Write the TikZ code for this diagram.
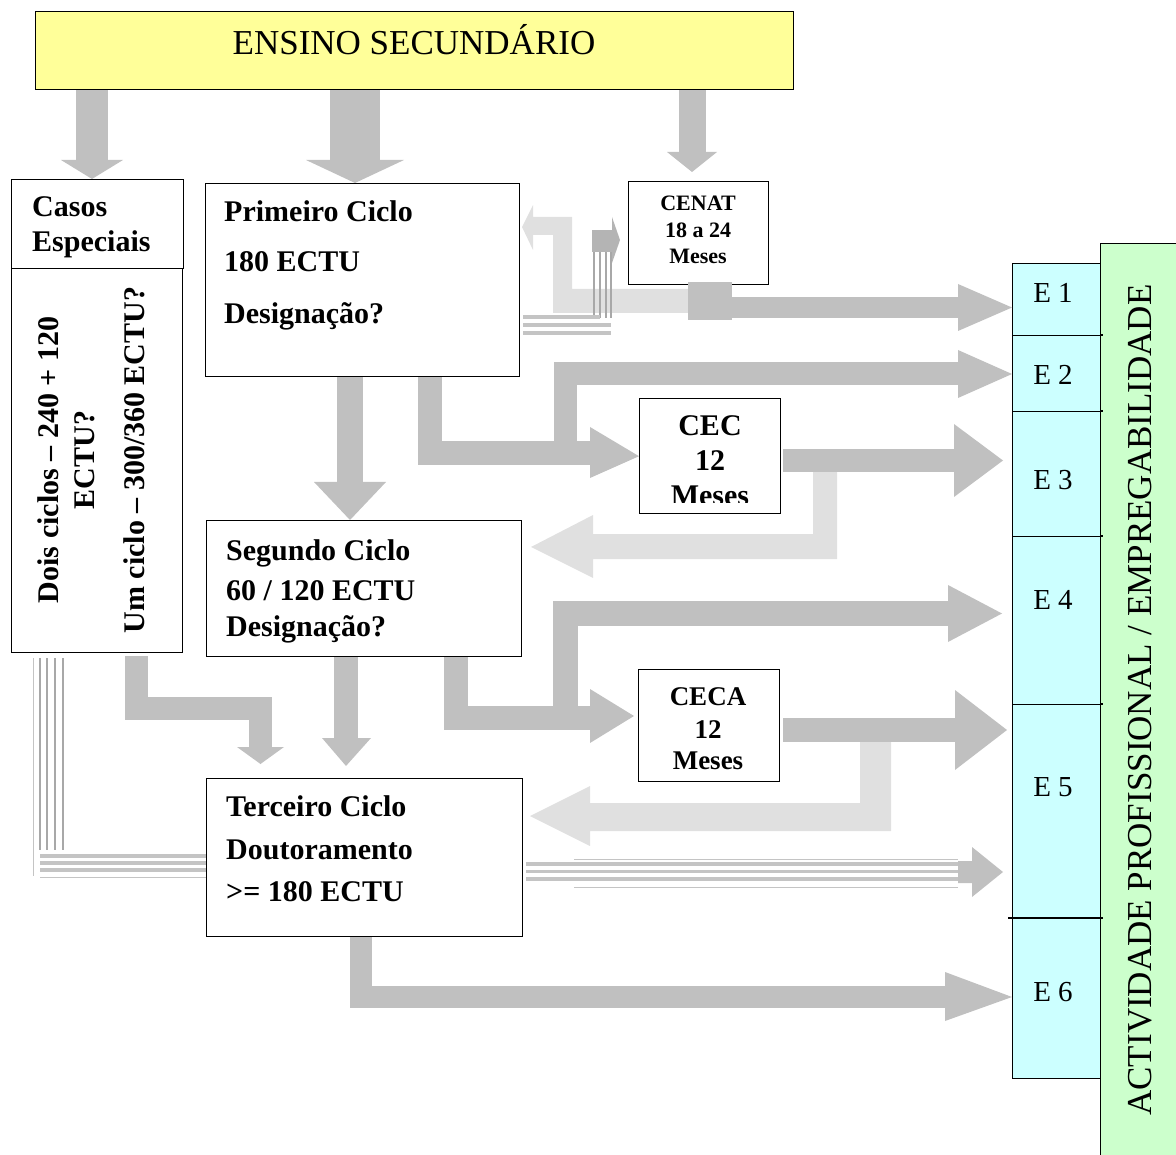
\documentclass[tikz,border=0pt]{standalone}
\usepackage{fontspec}
\setmainfont{Liberation Serif}
\definecolor{ensy}{HTML}{FFFF99}
\definecolor{ecyan}{HTML}{CCFFFF}
\definecolor{egreen}{HTML}{CCFFCC}
\definecolor{arrgray}{HTML}{C0C0C0}
\definecolor{lightarr}{HTML}{E0E0E0}
\definecolor{smallarr}{HTML}{B4B4B4}
\definecolor{stripev}{HTML}{A8A8A8}
\definecolor{stripeh}{HTML}{C4C4C4}
\tikzset{
  box/.style={draw=black, line width=1.4pt, fill=white, inner sep=0pt, anchor=north west},
  ebox/.style={box, fill=ecyan, minimum width=88pt},
  btxt/.style={font=\bfseries\fontsize{30}{36}\selectfont, inner sep=0pt},
  ctxt/.style={font=\bfseries\fontsize{22}{26}\selectfont, inner sep=0pt, anchor=base},
  rtxt/.style={font=\fontsize{29}{34}\selectfont, inner sep=0pt, anchor=base},
  shaft/.style={draw=arrgray, line width=#1, line join=miter, line cap=butt},
  headfill/.style={fill=arrgray},
  vstripe/.style={draw=stripev, line width=2.5pt},
  hstripe/.style={draw=stripeh, line width=3.2pt},
  thinstripe/.style={draw=stripeh, line width=1pt},
}
\begin{document}
\begin{tikzpicture}[x=1pt,y=-1pt]
\useasboundingbox (0,0) rectangle (1176,1155);

% ---------------- boxes (nodes) ----------------
\node[box, fill=ensy, minimum width=758pt, minimum height=78pt] (ens) at (35,11) {};
\node[box, minimum width=172pt, minimum height=89pt] (casosH) at (11,179) {};
\node[box, minimum width=171pt, minimum height=384pt] (casosB) at (11,268) {};
\node[box, minimum width=314pt, minimum height=193pt] (prim) at (205,183) {};
\node[box, minimum width=140pt, minimum height=103pt] (cenat) at (628,181) {};
\node[box, minimum width=141pt, minimum height=115pt] (cec) at (639,398) {};
\node[box, minimum width=315pt, minimum height=136pt] (seg) at (206,520) {};
\node[box, minimum width=141pt, minimum height=112pt] (ceca) at (638,669) {};
\node[box, minimum width=316pt, minimum height=158pt] (terc) at (206,778) {};
\node[box, fill=egreen, minimum width=80pt, minimum height=920pt] (act) at (1100,243) {};
\node[ebox, minimum height=72pt] (e1) at (1012,263) {};
\node[ebox, minimum height=76pt] (e2) at (1012,335) {};
\node[ebox, minimum height=125pt] (e3) at (1012,411) {};
\node[ebox, minimum height=168pt] (e4) at (1012,536) {};
\node[ebox, minimum height=214pt] (e5) at (1012,704) {};
\node[ebox, minimum height=160pt] (e6) at (1012,918) {};
\draw[line width=1.4pt] (1100,335) -- (1103,335) (1100,411) -- (1103,411) (1100,536) -- (1103,536)
  (1100,704) -- (1103,704) (1008,918) -- (1103,918);

% ---------------- light return arrows ----------------
\fill[lightarr] (690,313) -- (553,313) -- (553,235) -- (533,235) -- (533,250)
  -- (522,227) -- (533,205) -- (533,217) -- (572,217) -- (572,289) -- (690,289) -- cycle;
\fill[lightarr] (813,472) -- (837,472) -- (837,559) -- (593,559) -- (593,578) -- (531,547)
  -- (593,515) -- (593,534) -- (813,534) -- cycle;
\fill[lightarr] (860,742) -- (891,742) -- (891,831) -- (590,831) -- (590,846) -- (530,816)
  -- (590,786) -- (590,803) -- (860,803) -- cycle;

% ---------------- striped arrows ----------------
\foreach \x in {594,600,606,611} \draw[vstripe] (\x,252) -- (\x,318);
\draw[hstripe] (523,317) -- (600,317);
\draw[hstripe] (523,325) -- (611,325);
\draw[hstripe] (523,333) -- (611,333);
\fill[smallarr] (592,230) rectangle (612,252);
\fill[smallarr] (612,217) -- (620,240) -- (612,263) -- cycle;

\foreach \x in {40,47,55,63} \draw[vstripe] (\x,658) -- (\x,850);
\draw[thinstripe] (33,658) -- (33,876);
\foreach \y in {856,863,870} \draw[hstripe] (40,\y) -- (terc.west |- 0,\y);
\draw[thinstripe] (40,877) -- (terc.west |- 0,877);

\foreach \y in {864,871.5,879} \draw[hstripe] (526,\y) -- (958,\y);
\draw[thinstripe] (574,859) -- (958,859);
\draw[thinstripe] (574,887) -- (958,887);
\fill[arrgray] (958,861) -- (972,861) -- (972,847) -- (1003,872) -- (972,897) -- (972,883) -- (958,883) -- cycle;

% ---------------- main grey block arrows ----------------
% from Ensino Secundario
\draw[shaft=32pt] (92,0 |- ens.south) -- (92,160);
\fill[headfill] (61,160) -- (123,160) -- (92,0 |- casosH.north) -- cycle;
\draw[shaft=50pt] (355,0 |- ens.south) -- (355,160);
\fill[headfill] (306,160) -- (404,160) -- (355,0 |- prim.north) -- cycle;
\draw[shaft=27pt] (692,0 |- ens.south) -- (692,152);
\fill[headfill] (667,152) -- (717,152) -- (692,172) -- cycle;

% Primeiro -> Segundo
\draw[shaft=26pt] (350,0 |- prim.south) -- (350,482);
\fill[headfill] (314,482) -- (386,482) -- (350,0 |- seg.north) -- cycle;
% Primeiro -> CEC
\draw[shaft=24pt] (430,0 |- prim.south) -- (430,453) -- (590,453);
\fill[headfill] (590,427) -- (cec.west) -- (590,478) -- cycle;
% Primeiro -> E2
\draw[shaft=23pt] (565.5,453) -- (565.5,374) -- (958,374);
\fill[headfill] (958,350) -- (e2.west |- 0,374) -- (958,398) -- cycle;
% CENAT -> E1
\draw[shaft=21pt] (732,307.5) -- (958,307.5);
\fill[headfill] (958,284) -- (e1.west |- 0,307.5) -- (958,331) -- cycle;
% CEC -> E3
\draw[shaft=23pt] (783,460.5) -- (954,460.5);
\fill[headfill] (954,424) -- (1003,460.5) -- (954,497) -- cycle;
% Segundo -> CECA
\draw[shaft=24pt] (456,0 |- seg.south) -- (456,718) -- (590,718);
\fill[headfill] (590,689) -- (634,716) -- (590,743) -- cycle;
% Segundo -> E4
\draw[shaft=25pt] (565.5,718) -- (565.5,613.5) -- (948,613.5);
\fill[headfill] (948,585) -- (1002,613.5) -- (948,642) -- cycle;
% CECA -> E5
\draw[shaft=24pt] (783,730) -- (955,730);
\fill[headfill] (955,690) -- (1007,730) -- (955,770) -- cycle;
% Casos -> Terceiro
\draw[shaft=23pt] (136.5,656) -- (136.5,708.5) -- (260.5,708.5) -- (260.5,747);
\fill[headfill] (237,747) -- (284,747) -- (260.5,764) -- cycle;
% Segundo -> Terceiro
\draw[shaft=24pt] (346,0 |- seg.south) -- (346,738);
\fill[headfill] (322,738) -- (371,738) -- (346,766) -- cycle;
% Terceiro -> E6
\draw[shaft=22pt] (360.5,0 |- terc.south) -- (360.5,997) -- (945,997);
\fill[headfill] (945,972) -- (e6.west |- 0,997) -- (945,1021) -- cycle;
% square on CENAT
\fill[arrgray] (688,282) rectangle (732,320);

% ---------------- texts ----------------
\node[inner sep=0pt, anchor=base, font=\fontsize{35}{40}\selectfont] (tens) at (414,55) {ENSINO SECUNDÁRIO};

\node[btxt, anchor=base west] (tc1) at (32,217) {Casos};
\node[btxt, anchor=base west] (tc2) at (32,252) {Especiais};
\node[btxt, anchor=base, rotate=90] (tc3) at (58,460) {Dois ciclos – 240 + 120};
\node[btxt, anchor=base, rotate=90] (tc4) at (94,460) {ECTU?};
\node[btxt, anchor=base, rotate=90] (tc5) at (144,460) {Um ciclo – 300/360 ECTU?};

\node[btxt, anchor=base west] (tp1) at (224,222) {Primeiro Ciclo};
\node[btxt, anchor=base west] (tp2) at (224,272) {180 ECTU};
\node[btxt, anchor=base west] (tp3) at (224,324) {Designação?};

\node[ctxt] (tn1) at (698,211) {CENAT};
\node[ctxt] (tn2) at (698,238) {18 a 24};
\node[ctxt] (tn3) at (698,264) {Meses};

\node[btxt, anchor=base] (tcec1) at (710,436) {CEC};
\node[btxt, anchor=base] (tcec2) at (710,471) {12};
\begin{scope}
  \clip (640,399) rectangle (779,503);
  \node[btxt, anchor=base] (tcec3) at (710,506) {Meses};
\end{scope}

\node[btxt, anchor=base west] (ts1) at (226,560) {Segundo Ciclo};
\node[btxt, anchor=base west] (ts2) at (226,600) {60 / 120 ECTU};
\node[btxt, anchor=base west] (ts3) at (226,636) {Designação?};

\node[btxt, anchor=base, font=\bfseries\fontsize{27}{32}\selectfont] (tca1) at (708,705) {CECA};
\node[btxt, anchor=base, font=\bfseries\fontsize{27}{32}\selectfont] (tca2) at (708,738) {12};
\node[btxt, anchor=base, font=\bfseries\fontsize{27}{32}\selectfont] (tca3) at (708,769) {Meses};

\node[btxt, anchor=base west] (tt1) at (226,816) {Terceiro Ciclo};
\node[btxt, anchor=base west] (tt2) at (226,859) {Doutoramento};
\node[btxt, anchor=base west] (tt3) at (226,901) {>= 180 ECTU};

\node[rtxt] (te1) at (1053,302.5) {E 1};
\node[rtxt] (te2) at (1053,384.5) {E 2};
\node[rtxt] (te3) at (1053,489.5) {E 3};
\node[rtxt] (te4) at (1053,609.5) {E 4};
\node[rtxt] (te5) at (1053,796.5) {E 5};
\node[rtxt] (te6) at (1053,1001.5) {E 6};

\node[inner sep=0pt, anchor=base, rotate=90, font=\fontsize{35}{40}\selectfont] (tact) at (1151.5,700) {ACTIVIDADE PROFISSIONAL / EMPREGABILIDADE};
\end{tikzpicture}
\end{document}
